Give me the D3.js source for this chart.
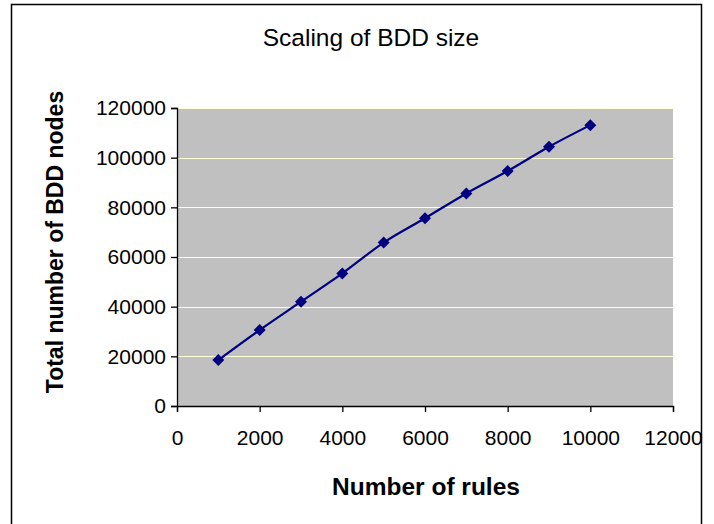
<!DOCTYPE html>
<html><head><meta charset="utf-8">
<script src="https://cdn.jsdelivr.net/npm/d3@7"></script>
<style>body{margin:0;background:#fff}svg{display:block}text{font-family:"Liberation Sans",Arial,sans-serif}</style>
</head><body><svg id="c" width="714" height="524"></svg>
<script>
const rules = [1000,2000,3000,4000,5000,6000,7000,8000,9000,10000];
const nodes = [18500,30600,42000,53400,65800,75600,85600,94600,104400,113100];
const xTicks = [0,2000,4000,6000,8000,10000,12000];
const yTicks = [0,20000,40000,60000,80000,100000,120000];
const title = "Scaling of BDD size";
const xTitle = "Number of rules";
const yTitle = "Total number of BDD nodes";

const svg = d3.select("#c");
const L=177,R=673,T=108,B=406;
const x = d3.scaleLinear().domain([0,12000]).range([L,R]);
const y = d3.scaleLinear().domain([0,120000]).range([B,T]);

svg.append("rect").attr("x",11.5).attr("y",4.5).attr("width",690).attr("height",530)
  .attr("fill","#fff").attr("stroke","#000").attr("stroke-width",1.5);

svg.append("rect").attr("x",L).attr("y",T).attr("width",R-L).attr("height",B-T).attr("fill","#C0C0C0");

svg.append("g").selectAll("line").data(yTicks.filter(d=>d>0)).join("line")
  .attr("x1",L).attr("x2",R).attr("y1",d=>Math.round(y(d))+0.5).attr("y2",d=>Math.round(y(d))+0.5)
  .attr("stroke","#FFFFD8").attr("stroke-width",1.2);

const yAxis = svg.append("g").attr("transform",`translate(${L},0)`)
  .call(d3.axisLeft(y).tickValues(yTicks).tickFormat(d3.format("d")).tickSize(6).tickPadding(5));
const xAxis = svg.append("g").attr("transform",`translate(0,${B})`)
  .call(d3.axisBottom(x).tickValues(xTicks).tickFormat(d3.format("d")).tickSize(6).tickPadding(18));
[yAxis,xAxis].forEach(a=>{
  a.selectAll("path").attr("stroke","#000").attr("stroke-width",1.3);
  a.selectAll("line").attr("stroke","#000").attr("stroke-width",1.3);
  a.selectAll("text").attr("font-size",21).attr("fill","#000").attr("font-family","Liberation Sans, Arial, sans-serif");
});

const pts = rules.map((r,i)=>[x(r),y(nodes[i])]);
svg.append("path").attr("d",d3.line().curve(d3.curveCatmullRom.alpha(0.5))(pts))
  .attr("fill","none").attr("stroke","#000080").attr("stroke-width",2.2);
svg.append("g").selectAll("path").data(pts).join("path")
  .attr("transform",d=>`translate(${d[0]},${d[1]})`)
  .attr("d","M0,-6L6,0L0,6L-6,0Z").attr("fill","#000080");

svg.append("text").attr("x",371).attr("y",46).attr("text-anchor","middle").attr("font-size",24.5).text(title);
svg.append("text").attr("x",426).attr("y",495).attr("text-anchor","middle").attr("font-size",24.5).attr("font-weight","bold").text(xTitle);
svg.append("text").attr("transform",`translate(63,${(T+B)/2-15}) rotate(-90)`).attr("text-anchor","middle")
  .attr("font-size",23).attr("font-weight","bold").text(yTitle);
</script></body></html>
